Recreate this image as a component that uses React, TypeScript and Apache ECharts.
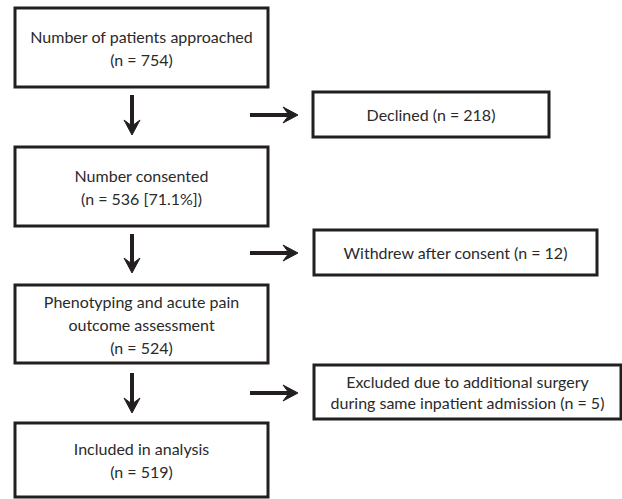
import React, { useEffect, useRef } from "react";
import * as echarts from "echarts";

// Main flow boxes (left column)
const mainBoxes: string[][] = [
  ["Number of patients approached", "(n = 754)"],
  ["Number consented", "(n = 536 [71.1%])"],
  ["Phenotyping and acute pain", "outcome assessment", "(n = 524)"],
  ["Included in analysis", "(n = 519)"],
];

// Exclusion boxes (right column)
const sideBoxes: string[][] = [
  ["Declined (n = 218)"],
  ["Withdrew after consent (n = 12)"],
  ["Excluded due to additional surgery", "during same inpatient admission (n = 5)"],
];

// Layout (pixels)
const mainRects = [
  { x: 15, y: 8, w: 253, h: 79 },
  { x: 15, y: 147, w: 253, h: 79 },
  { x: 15, y: 285, w: 253, h: 78 },
  { x: 15, y: 423, w: 253, h: 74 },
];
const sideRects = [
  { x: 313, y: 92, w: 236, h: 45 },
  { x: 314, y: 230, w: 283, h: 45 },
  { x: 314, y: 365, w: 307, h: 54 },
];
const downArrows = [
  { x: 132, y1: 95, y2: 135 },
  { x: 132, y1: 234, y2: 273 },
  { x: 132, y1: 373, y2: 413 },
];
const rightArrows = [
  { y: 115, x1: 250, x2: 298 },
  { y: 253, x1: 250, x2: 298 },
  { y: 393, x1: 250, x2: 298 },
];

const FONT = "Lato, 'Open Sans', sans-serif";
const FS = 16;
const STROKE = "#231f20";

export default function App() {
  const ref = useRef<HTMLDivElement>(null);
  useEffect(() => {
    document.body.style.margin = "0";
    if (!ref.current) return;
    const chart = echarts.init(ref.current, undefined, { renderer: "svg" });
    const elements: any[] = [];
    const addBox = (r: any, lines: string[], lh: number) => {
      elements.push({
        type: "rect",
        shape: { x: r.x, y: r.y, width: r.w, height: r.h },
        style: { fill: "#fff", stroke: STROKE, lineWidth: 3 },
      });
      const cy = r.y + r.h / 2;
      const start = cy - ((lines.length - 1) * lh) / 2;
      lines.forEach((t, i) => {
        elements.push({
          type: "text",
          x: r.x + r.w / 2,
          y: start + i * lh,
          style: {
            text: t,
            fill: "#2a2a2a",
            font: `${FS}px ${FONT}`,
            align: "center",
            verticalAlign: "middle",
          },
        });
      });
    };
    mainBoxes.forEach((b, i) => addBox(mainRects[i], b, 23));
    sideBoxes.forEach((b, i) => addBox(sideRects[i], b, 21));
    downArrows.forEach((a) => {
      elements.push({
        type: "line",
        shape: { x1: a.x, y1: a.y1, x2: a.x, y2: a.y2 - 6 },
        style: { stroke: STROKE, lineWidth: 4 },
      });
      elements.push({
        type: "polygon",
        shape: {
          points: [
            [a.x, a.y2],
            [a.x - 8, a.y2 - 15],
            [a.x, a.y2 - 9],
            [a.x + 8, a.y2 - 15],
          ],
        },
        style: { fill: STROKE, stroke: STROKE, lineWidth: 1 },
      });
    });
    rightArrows.forEach((a) => {
      elements.push({
        type: "line",
        shape: { x1: a.x1, y1: a.y, x2: a.x2 - 6, y2: a.y },
        style: { stroke: STROKE, lineWidth: 4 },
      });
      elements.push({
        type: "polygon",
        shape: {
          points: [
            [a.x2, a.y],
            [a.x2 - 15, a.y - 8],
            [a.x2 - 9, a.y],
            [a.x2 - 15, a.y + 8],
          ],
        },
        style: { fill: STROKE, stroke: STROKE, lineWidth: 1 },
      });
    });
    chart.setOption({
      animation: false,
      backgroundColor: "#ffffff",
      graphic: { elements },
    });
    return () => chart.dispose();
  }, []);
  return <div ref={ref} style={{ width: 622, height: 499 }} />;
}
